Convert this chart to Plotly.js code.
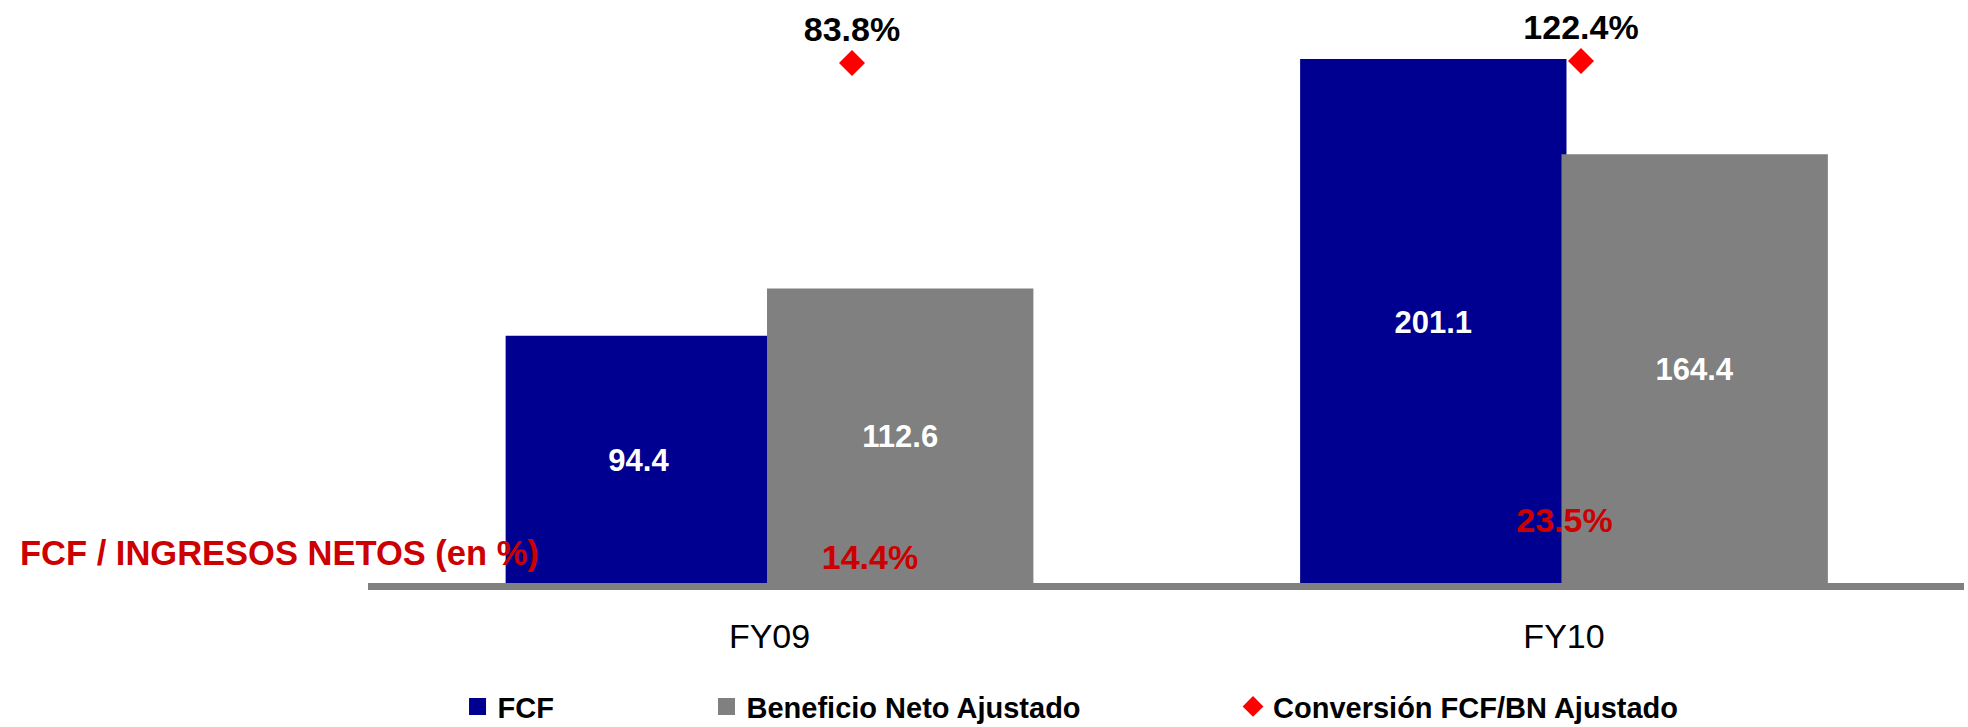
<!DOCTYPE html>
<html>
<head>
<meta charset="utf-8">
<script src="https://cdn.plot.ly/plotly-3.0.1.min.js"></script>
<style>html,body{margin:0;padding:0;background:#fff;}#chart{width:1968px;height:727px;}</style>
</head>
<body>
<div id="chart"></div>
<script>
// ---- data ----
const categories = ['FY09', 'FY10'];
const fcf = [94.4, 201.1];
const beneficioNeto = [112.6, 164.4];
const conversion = [83.8, 122.4];          // % FCF / BN Ajustado
const fcfIngresos = [14.4, 23.5];          // % FCF / Ingresos netos
const seriesNames = ['FCF', 'Beneficio Neto Ajustado', 'Conversión FCF/BN Ajustado'];
const sideLabel = 'FCF / INGRESOS NETOS (en %)';

const FONT = 'Liberation Sans, Arial, sans-serif';

const traces = [
  {
    type: 'bar', name: seriesNames[0], x: categories, y: fcf,
    marker: {color: '#000090', line: {color: '#000090', width: 5}},
    text: fcf.map(v => v.toFixed(1)), textposition: 'inside', insidetextanchor: 'middle',
    textangle: 0, constraintext: 'none',
    textfont: {family: FONT, size: 31, color: '#ffffff', weight: 'bold'},
    hoverinfo: 'skip', legend: 'legend'
  },
  {
    type: 'bar', name: seriesNames[1], x: categories, y: beneficioNeto,
    marker: {color: '#808080', line: {color: '#808080', width: 5}},
    text: beneficioNeto.map(v => v.toFixed(1)), textposition: 'inside', insidetextanchor: 'middle',
    textangle: 0, constraintext: 'none',
    textfont: {family: FONT, size: 31, color: '#ffffff', weight: 'bold'},
    hoverinfo: 'skip', legend: 'legend2'
  },
  {
    type: 'scatter', mode: 'markers+text', name: seriesNames[2],
    x: categories, y: conversion, xaxis: 'x2', yaxis: 'y2',
    marker: {symbol: 'diamond', size: 20, color: '#ff0000'},
    text: conversion.map(v => v.toFixed(1) + '%'), textposition: 'top center',
    textfont: {family: FONT, size: 34, color: '#000000', weight: 'bold'},
    cliponaxis: false, hoverinfo: 'skip', legend: 'legend3'
  },
  {
    type: 'scatter', mode: 'text', showlegend: false,
    x: categories, y: fcfIngresos, xaxis: 'x3', yaxis: 'y3',
    text: fcfIngresos.map(v => v.toFixed(1) + '%'), textposition: 'middle center',
    textfont: {family: FONT, size: 34, color: '#cc0000', weight: 'bold'},
    cliponaxis: false, hoverinfo: 'skip'
  }
];

const legendCommon = {
  orientation: 'h', xanchor: 'left', yanchor: 'middle', y: -0.212,
  font: {family: FONT, size: 29, color: '#000000', weight: 'bold'},
  bgcolor: 'rgba(0,0,0,0)', borderwidth: 0, itemclick: false, itemdoubleclick: false
};

const hidden = {visible: false, fixedrange: true};

const layout = {
  width: 1968, height: 727,
  margin: {l: 368, r: 4, t: 0, b: 144, pad: 0, autoexpand: false},
  paper_bgcolor: '#ffffff', plot_bgcolor: '#ffffff',
  font: {family: FONT},
  barmode: 'group', bargap: 0.342, bargroupgap: 0,
  showlegend: true,
  xaxis: {
    type: 'category', categoryarray: categories, range: [-0.5054, 1.5035],
    showline: true, linecolor: '#808080', linewidth: 7,
    showgrid: false, zeroline: false, ticks: '',
    tickfont: {family: FONT, size: 34, color: '#000000'},
    ticklabelstandoff: 17, fixedrange: true
  },
  yaxis: Object.assign({range: [0, 224.8]}, hidden),
  xaxis2: Object.assign({overlaying: 'x', type: 'category', categoryarray: categories, range: [-0.6639, 1.5254]}, hidden),
  yaxis2: Object.assign({overlaying: 'y', range: [-9951.8, 1300.1]}, hidden),
  xaxis3: Object.assign({overlaying: 'x', type: 'category', categoryarray: categories, range: [-0.7228, 1.5752]}, hidden),
  yaxis3: Object.assign({overlaying: 'y', range: [8.98, 152.4]}, hidden),
  legend: Object.assign({x: 0.0561}, legendCommon),
  legend2: Object.assign({x: 0.2121}, legendCommon),
  legend3: Object.assign({x: 0.5420}, legendCommon),
  annotations: [{
    text: sideLabel, xref: 'paper', yref: 'paper', x: -0.2196, y: 0.0515,
    xanchor: 'left', yanchor: 'middle', showarrow: false,
    font: {family: FONT, size: 34.5, color: '#cc0000', weight: 'bold'}
  }]
};

Plotly.newPlot('chart', traces, layout, {staticPlot: true, displayModeBar: false});
</script>
</body>
</html>
